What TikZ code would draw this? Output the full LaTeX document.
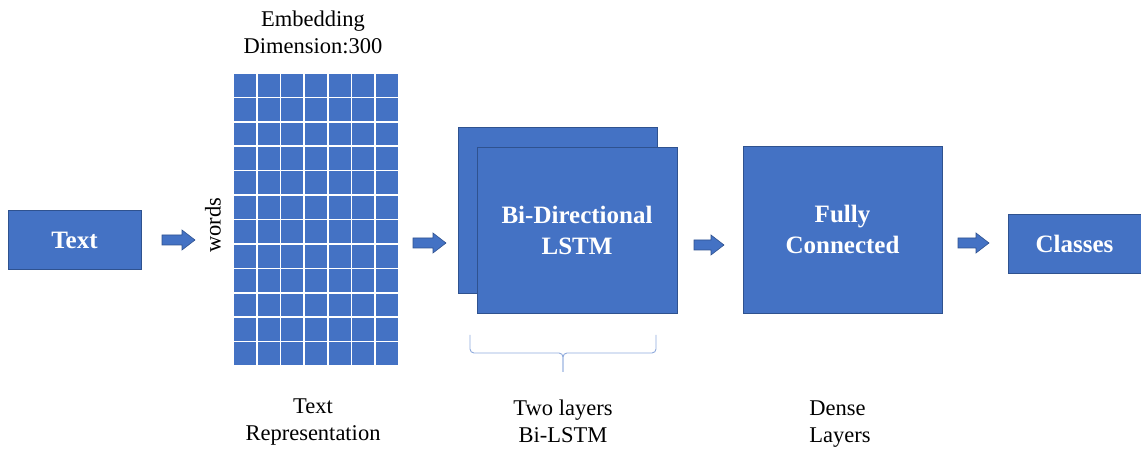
\documentclass[tikz,border=0pt]{standalone}
\usepackage{fontspec}
\setmainfont{Liberation Serif}
\definecolor{boxblue}{HTML}{4472C4}
\definecolor{boxedge}{HTML}{2F528F}
\definecolor{bracecol}{HTML}{8FAADC}
\tikzset{
  blk/.style={draw=boxedge, line width=0.7pt, fill=boxblue, text=white, align=center,
    font=\bfseries\fontsize{25}{31}\selectfont, inner sep=0pt},
  flow/.style={draw=boxedge, line width=0.6pt, fill=boxblue, line join=miter},
  lbl/.style={align=center, font=\fontsize{22.5}{27}\selectfont, inner sep=0pt},
  cell/.style={fill=boxblue, draw=white, line width=1.6pt}
}
% block arrow of length #3 starting at coordinate #1, named #2
\newcommand\blockarrow[3]{%
  \coordinate (#2) at (#1);
  \draw[flow] (#2) ++(0,-5) -- ++({#3-13},0) -- ++(0,-5) -- ++(13,10)
    -- ++(-13,10) -- ++(0,-5) -- ++({-(#3-13)},0) -- cycle;}
\begin{document}
\begin{tikzpicture}[x=1pt, y=-1pt]
\useasboundingbox (0,0) rectangle (1141,454);

% input text
\node[blk, minimum width=133pt, minimum height=59pt] (text) at (74.5,240) {Text};
\blockarrow{162,240}{a1}{33}

% embedding matrix: 7 columns x 12 rows
\foreach \i in {0,...,6}
  \foreach \j in {0,...,11}
    \draw[cell] ({233+\i*23.714},{73+\j*24.417}) rectangle ++(23.714,24.417);
\node[lbl, rotate=90] (words) at (213,225) {words};
\node[lbl] (emb) at (313,32) {Embedding\\Dimension:300};
\node[lbl] (rep) at (313,422) {Text\\Representation};

% stacked Bi-LSTM layers
\blockarrow{413,243}{a2}{33}
\node[blk, minimum width=199pt, minimum height=166pt] (lstmback) at (557.5,210) {};
\node[blk, minimum width=200pt, minimum height=166pt] (lstm) at (577,230) {Bi-Directional\\LSTM};
\draw[bracecol, line width=0.9pt, rounded corners=4pt]
  (470,335) -- (470,353) -- (563,353) -- (563,372);
\draw[bracecol, line width=0.9pt, rounded corners=4pt]
  (656,335) -- (656,353) -- (563,353) -- (563,372);
\node[lbl] (bilstm) at (563,421) {Two layers\\Bi-LSTM};

% dense layers
\blockarrow{694,245}{a3}{30}
\node[blk, minimum width=199pt, minimum height=167pt] (fc) at (842.5,229.5) {Fully\\Connected};
\node[lbl, align=left] (dense) at (840,424) {Dense\\Layers};

% output
\blockarrow{958,243}{a4}{31}
\node[blk, minimum width=133pt, minimum height=59pt] (classes) at (1074.5,243.5) {Classes};
\end{tikzpicture}
\end{document}
